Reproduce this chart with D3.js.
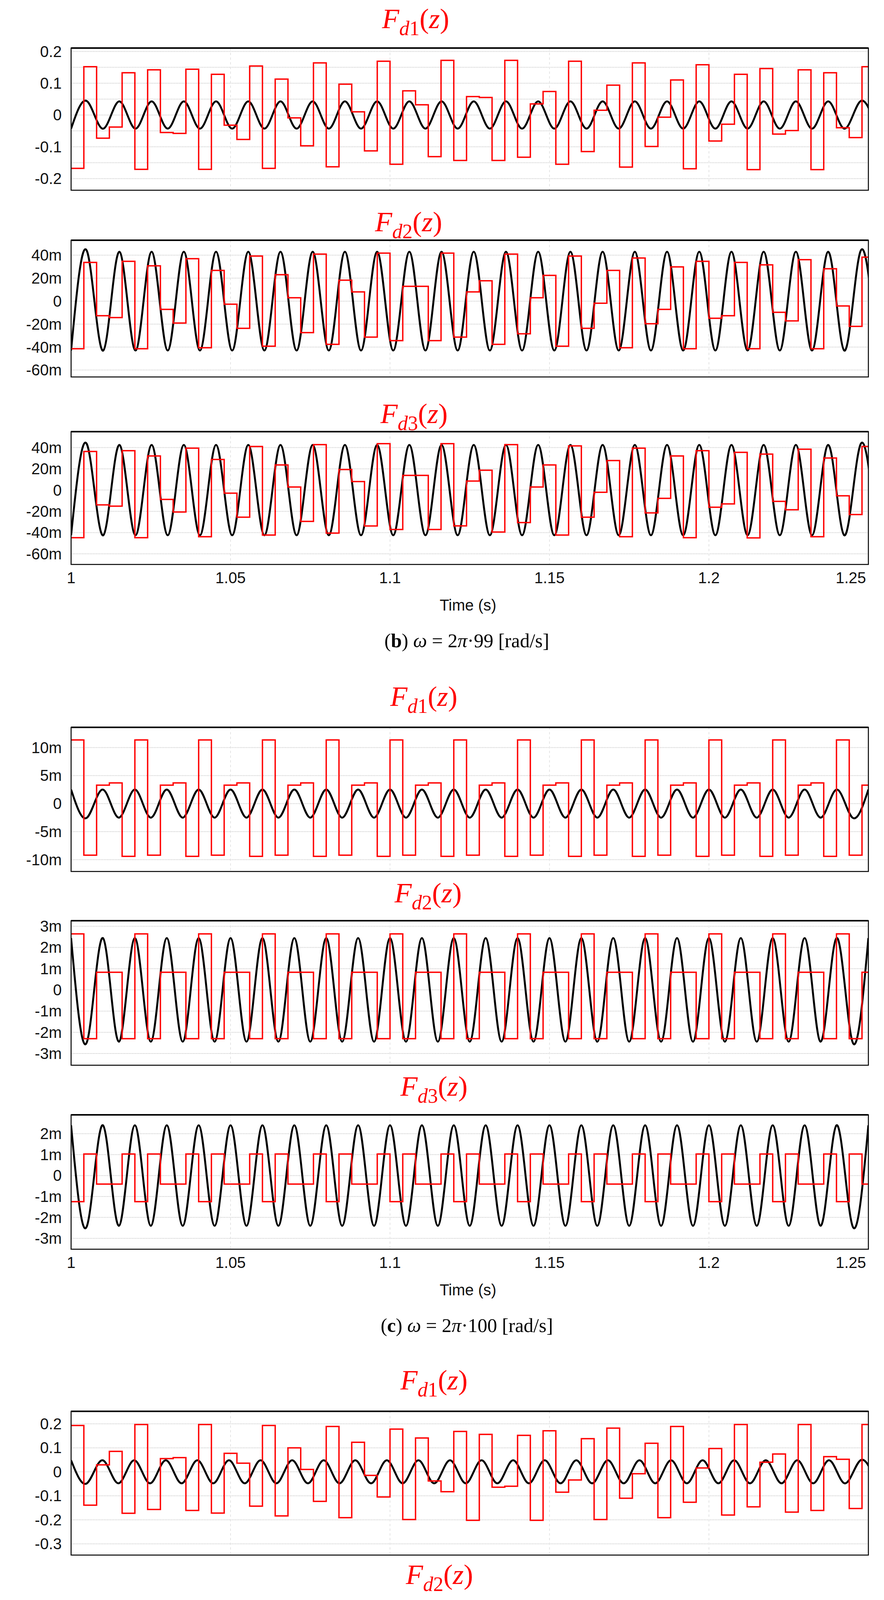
<!DOCTYPE html>
<html>
<head>
<meta charset="utf-8">
<script src="https://cdn.jsdelivr.net/npm/d3@7"></script>
<style>
  body { margin: 0; background: #fff; }
  svg { display: block; }
  .tick-label { font-family: "Liberation Sans", Arial, sans-serif; font-size: 40px; fill: #111; }
  .title { font-family: "Liberation Serif", "DejaVu Serif", serif; fill: #ff0000; }
  .caption { font-family: "Liberation Serif", "DejaVu Serif", serif; font-size: 50px; fill: #000; }
</style>
</head>
<body>
<svg id="chart" width="2263" height="5205"></svg>
<script>
// sample period of the red (discrete) output, seconds
const tStart = 1, tEnd = 1.25, sampleT = 0.004;
const xTicks = [1, 1.05, 1.1, 1.15, 1.2, 1.25];
const xTickLabels = ["1", "1.05", "1.1", "1.15", "1.2", "1.25"];

// black input: times of successive extrema (alternating trough/peak)
const extremaB = [1.0, 1.00505, 1.0101, 1.01515, 1.0202, 1.02525, 1.0303, 1.03535, 1.0404, 1.04545,
  1.05051, 1.05556, 1.06061, 1.06566, 1.07071, 1.07576, 1.08081, 1.08586, 1.09091, 1.09596,
  1.10101, 1.10606, 1.11111, 1.11616, 1.12121, 1.12626, 1.13131, 1.13636, 1.14141, 1.14646,
  1.15152, 1.15657, 1.16162, 1.16667, 1.17172, 1.17677, 1.18182, 1.18687, 1.19192, 1.19697,
  1.20202, 1.20707, 1.21212, 1.21717, 1.22222, 1.22727, 1.23232, 1.23737, 1.24242, 1.24747, 1.25253];
const extremaC = [1.0, 1.005, 1.01, 1.015, 1.02, 1.025, 1.03, 1.035, 1.04, 1.045,
  1.05, 1.055, 1.06, 1.065, 1.07, 1.075, 1.08, 1.085, 1.09, 1.095,
  1.1, 1.105, 1.11, 1.115, 1.12, 1.125, 1.13, 1.135, 1.14, 1.145,
  1.15, 1.155, 1.16, 1.165, 1.17, 1.175, 1.18, 1.185, 1.19, 1.195,
  1.2, 1.205, 1.21, 1.215, 1.22, 1.225, 1.23, 1.235, 1.24, 1.245, 1.25];
const extremaD = [1.0, 1.00495, 1.0099, 1.01485, 1.0198, 1.02475, 1.0297, 1.03465, 1.0396, 1.04455,
  1.0495, 1.05446, 1.05941, 1.06436, 1.06931, 1.07426, 1.07921, 1.08416, 1.08911, 1.09406,
  1.09901, 1.10396, 1.10891, 1.11386, 1.11881, 1.12376, 1.12871, 1.13366, 1.13861, 1.14356,
  1.14851, 1.15347, 1.15842, 1.16337, 1.16832, 1.17327, 1.17822, 1.18317, 1.18812, 1.19307,
  1.19802, 1.20297, 1.20792, 1.21287, 1.21782, 1.22277, 1.22772, 1.23267, 1.23762, 1.24257, 1.24752, 1.25248];

// red outputs, one value per sample
const redB1 = [-0.168,0.152,-0.073,-0.038,0.133,-0.171,0.142,-0.055,-0.058,0.144,
  -0.171,0.128,-0.032,-0.077,0.154,-0.168,0.113,-0.009,-0.097,0.164,
  -0.163,0.097,0.010,-0.113,0.169,-0.155,0.076,0.032,-0.131,0.172,
  -0.143,0.058,0.055,-0.143,0.172,-0.133,0.035,0.074,-0.155,0.169,
  -0.115,0.015,0.094,-0.164,0.164,-0.099,-0.007,0.110,-0.169,0.158,
  -0.082,-0.029,0.128,-0.172,0.146,-0.060,-0.049,0.142,-0.172,0.133,
  -0.040,-0.071,0.152];
const redB2 = [-41.4,33.7,-12.7,-14.3,34.6,-41.4,30.7,-7.2,-19.1,36.9,
  -40.6,26.7,-2.7,-23.7,39.2,-39.2,23.0,2.9,-27.4,40.9,
  -37.6,18.2,8.0,-31.3,41.8,-34.4,12.9,12.9,-34.4,41.8,
  -31.3,8.0,17.7,-37.6,40.9,-28.4,2.9,22.4,-39.2,39.2,
  -23.7,-1.8,26.7,-40.6,37.5,-19.7,-7.2,29.8,-41.4,34.6,
  -14.9,-12.7,33.7,-41.4,31.6,-9.7,-17.2,36.1,-41.4,28.2,
  -4.2,-22.0,38.3];
const redB3 = [-44.8,36.3,-13.9,-15.1,37.1,-44.8,32.1,-8.8,-20.6,39.5,
  -43.9,28.8,-2.9,-25.5,41.0,-42.3,23.7,2.9,-29.5,42.8,
  -40.5,19.3,8.0,-33.8,43.7,-37.1,13.8,13.8,-37.1,43.7,
  -33.7,8.5,18.7,-39.5,42.8,-30.6,2.9,23.7,-42.3,41.6,
  -25.5,-2.1,27.8,-43.9,39.5,-21.5,-7.8,32.1,-44.8,37.1,
  -16.1,-13.0,35.5,-45.0,33.9,-10.6,-18.5,38.5,-43.9,30.2,
  -5.4,-23.0,41.0];
const redC1 = [11.35,-9.2,3.3,3.7,-9.4, 11.35,-9.2,3.3,3.7,-9.4, 11.35,-9.2,3.3,3.7,-9.4,
  11.35,-9.2,3.3,3.7,-9.4, 11.35,-9.2,3.3,3.7,-9.4, 11.35,-9.2,3.3,3.7,-9.4,
  11.35,-9.2,3.3,3.7,-9.4, 11.35,-9.2,3.3,3.7,-9.4, 11.35,-9.2,3.3,3.7,-9.4,
  11.35,-9.2,3.3,3.7,-9.4, 11.35,-9.2,3.3,3.7,-9.4, 11.35,-9.2,3.3,3.7,-9.4,
  11.35,-9.2,3.3];
const redC2 = [2.64,-2.3,0.83,0.83,-2.3, 2.64,-2.3,0.83,0.83,-2.3, 2.64,-2.3,0.83,0.83,-2.3,
  2.64,-2.3,0.83,0.83,-2.3, 2.64,-2.3,0.83,0.83,-2.3, 2.64,-2.3,0.83,0.83,-2.3,
  2.64,-2.3,0.83,0.83,-2.3, 2.64,-2.3,0.83,0.83,-2.3, 2.64,-2.3,0.83,0.83,-2.3,
  2.64,-2.3,0.83,0.83,-2.3, 2.64,-2.3,0.83,0.83,-2.3, 2.64,-2.3,0.83,0.83,-2.3,
  2.64,-2.3,0.83];
const redC3 = [-1.25,1.03,-0.41,-0.41,1.03, -1.25,1.03,-0.41,-0.41,1.03, -1.25,1.03,-0.41,-0.41,1.03,
  -1.25,1.03,-0.41,-0.41,1.03, -1.25,1.03,-0.41,-0.41,1.03, -1.25,1.03,-0.41,-0.41,1.03,
  -1.25,1.03,-0.41,-0.41,1.03, -1.25,1.03,-0.41,-0.41,1.03, -1.25,1.03,-0.41,-0.41,1.03,
  -1.25,1.03,-0.41,-0.41,1.03, -1.25,1.03,-0.41,-0.41,1.03, -1.25,1.03,-0.41,-0.41,1.03,
  -1.25,1.03,-0.41];
const redD1 = [0.193,-0.139,0.029,0.085,-0.173,0.197,-0.157,0.055,0.059,-0.161,
  0.197,-0.172,0.077,0.036,-0.143,0.193,-0.184,0.100,0.010,-0.123,
  0.189,-0.191,0.123,-0.015,-0.105,0.178,-0.199,0.141,-0.038,-0.083,
  0.168,-0.202,0.156,-0.064,-0.060,0.152,-0.202,0.171,-0.085,-0.034,
  0.138,-0.199,0.182,-0.110,-0.008,0.119,-0.191,0.189,-0.127,0.016,
  0.097,-0.180,0.197,-0.146,0.040,0.074,-0.168,0.197,-0.161,0.063,
  0.052,-0.153,0.197];
const redD2 = [47.8,-38.8,14.2,13.3,-37.9,47.8,-42.0,19.8,7.2,-33.8,
  46.8,-45.2,25.6,1.2,-28.8,45.1,-46.9,30.6,-4.6,-23.8,
  42.7,-48.5,34.5,-11.1,-18.2,39.5,-48.5,38.6,-16.5,-12.6,
  36.2,-48.5,41.9,-22.4,-6.7,32.1,-47.5,44.1,-27.3,-1.1,
  27.1,-45.9,45.9,-32.0,5.1,22.4,-43.5,47.6,-36.4,10.9,
  16.6,-40.2,47.6,-40.2,16.6,10.9,-36.1,47.6,-43.5,22.5,
  4.5,-32.0,46.5];
const redD3 = [44.0,-35.9,13.5,11.9,-35.0,44.0,-38.4,18.8,6.5,-30.4,
  43.1,-40.9,23.1,0.9,-26.3,41.3,-42.9,28.4,-4.6,-21.9,
  39.6,-44.6,31.9,-9.8,-16.6,36.3,-44.6,35.4,-14.8,-11.5,
  33.4,-44.6,38.8,-20.0,-6.0,29.4,-43.8,40.4,-25.3,-0.4,
  24.8,-41.6,41.9,-29.8,5.0,20.6,-39.1,44.0,-33.1,10.4,
  15.3,-36.6,44.0,-36.6,15.3,10.4,-32.9,43.1,-40.0,20.6,
  4.0,-28.8,42.1];

// y tick values (in the panel's display unit)
const ticksPoint1 = [-0.2, -0.1, 0, 0.1, 0.2];
const gridB1 = [-0.2, -0.15, -0.1, -0.05, 0, 0.05, 0.1, 0.15, 0.2];
const ticksM60 = [-60, -40, -20, 0, 20, 40];
const ticksC1 = [-10, -5, 0, 5, 10];
const ticksC2 = [-3, -2, -1, 0, 1, 2, 3];
const ticksC3 = [-3, -2, -1, 0, 1, 2];
const ticksD1 = [-0.3, -0.2, -0.1, 0, 0.1, 0.2];

const captions = [
  { letter: "b", rest: "99" },
  { letter: "c", rest: "100" },
  { letter: "d", rest: "101" }
];

// layout
const panels = [
  { sub: "1", red: redB1, ext: extremaB, firstLow: true,  amp: 0.043, unit: "", top: 123, bottom: 487, dom: [-0.2367, 0.2106], ticks: ticksPoint1, grid: gridB1, tx: 978, ty: 72 },
  { sub: "2", red: redB2, ext: extremaB, firstLow: true,  amp: 43,    unit: "m", top: 615, bottom: 965, dom: [-66, 53], ticks: ticksM60, grid: ticksM60, tx: 960, ty: 592 },
  { sub: "3", red: redB3, ext: extremaB, firstLow: true,  amp: 42.5,  unit: "m", top: 1105, bottom: 1445, dom: [-70, 55], ticks: ticksM60, grid: ticksM60, tx: 974, ty: 1083 },
  { sub: "1", red: redC1, ext: extremaC, firstLow: false, amp: 2.5,   unit: "m", top: 1862, bottom: 2231, dom: [-12.1, 13.6], ticks: ticksC1, grid: ticksC1, tx: 999, ty: 1807 },
  { sub: "2", red: redC2, ext: extremaC, firstLow: false, amp: 2.44,  unit: "m", top: 2357, bottom: 2727, dom: [-3.55, 3.26], ticks: ticksC2, grid: ticksC2, tx: 1010, ty: 2310 },
  { sub: "3", red: redC3, ext: extremaC, firstLow: false, amp: 2.4,   unit: "m", top: 2854, bottom: 3198, dom: [-3.52, 2.9], ticks: ticksC3, grid: ticksC3, tx: 1025, ty: 2805 },
  { sub: "1", red: redD1, ext: extremaD, firstLow: false, amp: 0.048, unit: "", top: 3613, bottom: 3981, dom: [-0.347, 0.252], ticks: ticksD1, grid: ticksD1, tx: 1025, ty: 3557 },
  { sub: "2", red: redD2, ext: extremaD, firstLow: false, amp: 47.5,  unit: "m", top: 4107, bottom: 4470, dom: [-68, 59.7], ticks: ticksM60, grid: ticksM60, tx: 1039, ty: 4055 },
  { sub: "3", red: redD3, ext: extremaD, firstLow: false, amp: 47.2,  unit: "m", top: 4603, bottom: 4947, dom: [-70, 57.4], ticks: ticksM60, grid: ticksM60, tx: 1053, ty: 4552 }
];
const groupBottoms = [1445, 3198, 4947];

const left = 182, right = 2223;
const svg = d3.select("#chart");
const x = d3.scaleLinear().domain([tStart, tEnd]).range([left, right]);

function fmt(v, unit) {
  if (v === 0) return "0";
  return unit === "m" ? `${v}m` : `${v}`;
}

panels.forEach((p, idx) => {
  const y = d3.scaleLinear().domain(p.dom).range([p.bottom, p.top]);
  const g = svg.append("g");
  const clipId = `clip${idx}`;
  svg.append("clipPath").attr("id", clipId)
    .append("rect").attr("x", left).attr("y", p.top).attr("width", right - left).attr("height", p.bottom - p.top);

  // grid
  g.selectAll(".hg").data(p.grid).enter().append("line")
    .attr("x1", left).attr("x2", right)
    .attr("y1", d => y(d)).attr("y2", d => y(d))
    .attr("stroke", "#c8c8c8").attr("stroke-width", 2).attr("stroke-dasharray", "2,2");
  g.selectAll(".vg").data(xTicks.slice(1, -1)).enter().append("line")
    .attr("x1", d => x(d)).attr("x2", d => x(d))
    .attr("y1", p.top).attr("y2", p.bottom)
    .attr("stroke", "#dcdcdc").attr("stroke-width", 1.5).attr("stroke-dasharray", "6,6");

  // y tick labels
  g.selectAll(".yl").data(p.ticks).enter().append("text")
    .attr("class", "tick-label")
    .attr("x", 158).attr("y", d => y(d)).attr("dy", "0.35em")
    .attr("text-anchor", "end")
    .text(d => fmt(d, p.unit));

  const plot = g.append("g").attr("clip-path", `url(#${clipId})`);

  // black input signal through its extrema
  const blackPts = p.ext.map((t, i) => [t, ((i % 2 === 0) === p.firstLow ? -1 : 1) * p.amp]);
  plot.append("path")
    .attr("d", d3.line().x(d => x(d[0])).y(d => y(d[1])).curve(d3.curveNatural)(blackPts))
    .attr("fill", "none").attr("stroke", "#000").attr("stroke-width", 5);

  // red sampled output
  const redPts = p.red.map((v, i) => [tStart + i * sampleT, v]);
  redPts.push([tEnd + 0.001, p.red[p.red.length - 1]]);
  plot.append("path")
    .attr("d", d3.line().x(d => x(d[0])).y(d => y(d[1])).curve(d3.curveStepAfter)(redPts))
    .attr("fill", "none").attr("stroke", "#ff0000").attr("stroke-width", 3.5);

  // frame
  g.append("rect").attr("x", left).attr("y", p.top)
    .attr("width", right - left).attr("height", p.bottom - p.top)
    .attr("fill", "none").attr("stroke", "#000").attr("stroke-width", 2.5);
  g.append("line").attr("x1", left).attr("x2", right).attr("y1", p.top).attr("y2", p.top)
    .attr("stroke", "#000").attr("stroke-width", 4);

  // title F_dk(z)
  const t = g.append("text").attr("class", "title").attr("x", p.tx).attr("y", p.ty).attr("font-size", 72);
  t.append("tspan").attr("font-style", "italic").text("F");
  t.append("tspan").attr("font-style", "italic").attr("font-size", 52).attr("dy", 18).text("d");
  t.append("tspan").attr("font-size", 52).text(p.sub);
  t.append("tspan").attr("dy", -18).text("(");
  t.append("tspan").attr("font-style", "italic").text("z");
  t.append("tspan").text(")");
});

// x axes, labels and captions per group
groupBottoms.forEach((b, gi) => {
  svg.selectAll(null).data(xTicks).enter().append("text")
    .attr("class", "tick-label")
    .attr("x", (d, i) => i === xTicks.length - 1 ? x(d) - 6 : x(d))
    .attr("y", b + 48)
    .attr("text-anchor", (d, i) => i === xTicks.length - 1 ? "end" : "middle")
    .text((d, i) => xTickLabels[i]);
  svg.append("text").attr("class", "tick-label")
    .attr("x", 1198).attr("y", b + 118).attr("text-anchor", "middle")
    .attr("font-size", 38).text("Time (s)");
  const c = svg.append("text").attr("class", "caption")
    .attr("x", 1195).attr("y", b + 212).attr("text-anchor", "middle");
  c.append("tspan").text("(");
  c.append("tspan").attr("font-weight", "bold").text(captions[gi].letter);
  c.append("tspan").text(") ");
  c.append("tspan").attr("font-style", "italic").text("ω");
  c.append("tspan").text(" = 2");
  c.append("tspan").attr("font-style", "italic").text("π");
  c.append("tspan").text(`·${captions[gi].rest} [rad/s]`);
});
</script>
</body>
</html>
